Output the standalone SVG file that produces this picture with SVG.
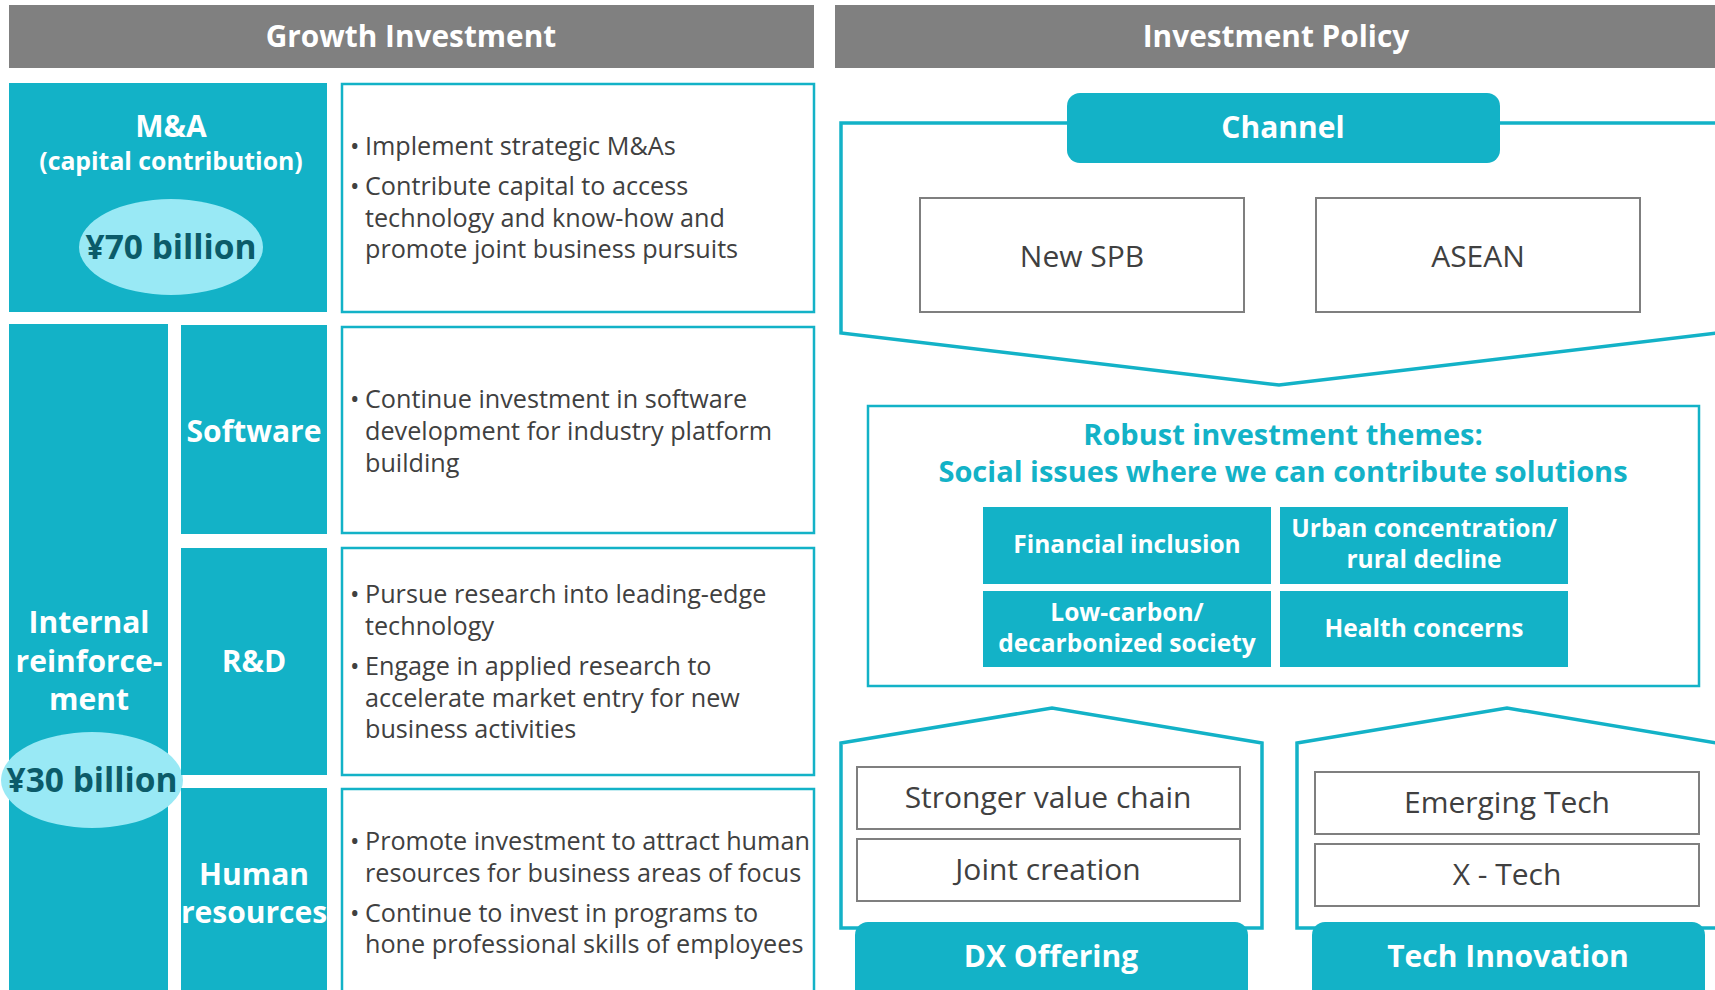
<svg xmlns="http://www.w3.org/2000/svg" width="1715" height="990" viewBox="0 0 1715 990">
<style>
.hdr{fill:#808080}
.teal{fill:#13B2C7}
.tbox{fill:#fff;stroke:#13B2C7;stroke-width:2.5}
.gbox{fill:#fff;stroke:#7f7f7f;stroke-width:2}
.line{fill:none;stroke:#13B2C7;stroke-width:3.5;stroke-linejoin:miter}
.ell{fill:#99E9F5}
text{font-family:'Open Sans','Noto Sans',sans-serif}
.hw{fill:#fff;font-weight:700;font-size:29.8px;text-anchor:middle}
.lw{fill:#fff;font-weight:700;font-size:30px;text-anchor:middle}
.sw{fill:#fff;font-weight:700;font-size:24.5px;text-anchor:middle}
.amt{fill:#0B5B69;font-weight:700;font-size:33.5px;text-anchor:middle}
.d{fill:#404040;font-size:25.2px}
.g{fill:#404040;font-size:30px;text-anchor:middle}
.tt{fill:#13B2C7;font-weight:700;font-size:29px;text-anchor:middle}
</style>

<g id="header-growth">
<rect class="hdr" x="9" y="5" width="805" height="63"/>
<text class="hw" x="411" y="47">Growth Investment</text>
</g>
<g id="header-policy">
<rect class="hdr" x="835" y="5" width="880" height="63"/>
<text class="hw" x="1276" y="47">Investment Policy</text>
</g>

<g id="ma">
<rect class="teal" x="9" y="83" width="318" height="229"/>
<text class="lw" x="171" y="137">M&amp;A</text>
<text class="sw" x="171" y="170" style="font-size:24.8px">(capital contribution)</text>
<ellipse class="ell" cx="171" cy="247" rx="92" ry="48"/>
<text class="amt" x="171" y="259">¥70 billion</text>
</g>
<g id="ma-desc">
<rect class="tbox" x="342" y="84" width="472" height="228"/>
<text class="d" x="350" y="155">•</text><text class="d" x="365" y="155">Implement strategic M&amp;As</text>
<text class="d" x="350" y="195">•</text>
<text class="d" x="365" y="195">Contribute capital to access<tspan x="365" y="227">technology and know-how and</tspan><tspan x="365" y="258">promote joint business pursuits</tspan></text>
</g>

<g id="internal">
<rect class="teal" x="9" y="324" width="159" height="670"/>
<text class="lw" x="89" y="633">Internal<tspan x="89" y="672">reinforce-</tspan><tspan x="89" y="710">ment</tspan></text>
<ellipse class="ell" cx="92" cy="780" rx="91" ry="48"/>
<text class="amt" x="92" y="792">¥30 billion</text>
</g>

<g id="software">
<rect class="teal" x="181" y="325" width="146" height="209"/>
<text class="lw" x="254" y="442">Software</text>
</g>
<g id="software-desc">
<rect class="tbox" x="342" y="327" width="472" height="206"/>
<text class="d" x="350" y="408">•</text>
<text class="d" x="365" y="408">Continue investment in software<tspan x="365" y="440">development for industry platform</tspan><tspan x="365" y="472">building</tspan></text>
</g>

<g id="rnd">
<rect class="teal" x="181" y="548" width="146" height="227"/>
<text class="lw" x="254" y="672">R&amp;D</text>
</g>
<g id="rnd-desc">
<rect class="tbox" x="342" y="548" width="472" height="227"/>
<text class="d" x="350" y="603">•</text>
<text class="d" x="365" y="603">Pursue research into leading-edge<tspan x="365" y="635">technology</tspan></text>
<text class="d" x="350" y="675">•</text>
<text class="d" x="365" y="675">Engage in applied research to<tspan x="365" y="707">accelerate market entry for new</tspan><tspan x="365" y="738">business activities</tspan></text>
</g>

<g id="human">
<rect class="teal" x="181" y="788" width="146" height="210"/>
<text class="lw" x="254" y="885">Human<tspan x="254" y="923">resources</tspan></text>
</g>
<g id="human-desc">
<rect class="tbox" x="342" y="789" width="472" height="210"/>
<text class="d" x="350" y="850">•</text>
<text class="d" x="365" y="850">Promote investment to attract human<tspan x="365" y="882">resources for business areas of focus</tspan></text>
<text class="d" x="350" y="922">•</text>
<text class="d" x="365" y="922">Continue to invest in programs to<tspan x="365" y="953">hone professional skills of employees</tspan></text>
</g>

<g id="channel">
<path class="line" d="M1067,123 L841,123 L841,333 L1279,385 L1717,333 L1717,123 L1500,123"/>
<rect class="teal" x="1067" y="93" width="433" height="70" rx="13"/>
<text class="lw" x="1283" y="138">Channel</text>
</g>
<g id="new-spb">
<rect class="gbox" x="920" y="198" width="324" height="114"/>
<text class="g" x="1082" y="267">New SPB</text>
</g>
<g id="asean">
<rect class="gbox" x="1316" y="198" width="324" height="114"/>
<text class="g" x="1478" y="267">ASEAN</text>
</g>

<g id="themes">
<rect class="tbox" x="868" y="406" width="831" height="280"/>
<text class="tt" x="1283" y="445">Robust investment themes:<tspan x="1283" y="482">Social issues where we can contribute solutions</tspan></text>
</g>
<g id="theme-financial">
<rect class="teal" x="983" y="507" width="288" height="77"/>
<text class="sw" x="1127" y="553">Financial inclusion</text>
</g>
<g id="theme-urban">
<rect class="teal" x="1280" y="507" width="288" height="77"/>
<text class="sw" x="1424" y="537">Urban concentration/<tspan x="1424" y="568">rural decline</tspan></text>
</g>
<g id="theme-lowcarbon">
<rect class="teal" x="983" y="591" width="288" height="76"/>
<text class="sw" x="1127" y="621">Low-carbon/<tspan x="1127" y="652">decarbonized society</tspan></text>
</g>
<g id="theme-health">
<rect class="teal" x="1280" y="591" width="288" height="76"/>
<text class="sw" x="1424" y="637">Health concerns</text>
</g>

<g id="dx-offering">
<path class="line" d="M841,928 L841,743 L1052,708 L1262,743 L1262,928 Z"/>
<rect class="gbox" x="857" y="767" width="383" height="62"/>
<text class="g" x="1048" y="808">Stronger value chain</text>
<rect class="gbox" x="857" y="839" width="383" height="62"/>
<text class="g" x="1048" y="880">Joint creation</text>
<rect class="teal" x="855" y="922" width="393" height="90" rx="13"/>
<text class="lw" x="1051" y="967">DX Offering</text>
</g>

<g id="tech-innovation">
<path class="line" d="M1297,928 L1297,743 L1507,708 L1717,743 L1717,928 Z"/>
<rect class="gbox" x="1315" y="772" width="384" height="62"/>
<text class="g" x="1507" y="813">Emerging Tech</text>
<rect class="gbox" x="1315" y="844" width="384" height="62"/>
<text class="g" x="1507" y="885">X - Tech</text>
<rect class="teal" x="1312" y="922" width="393" height="90" rx="13"/>
<text class="lw" x="1508" y="967">Tech Innovation</text>
</g>

<g id="connectors"></g>
</svg>
